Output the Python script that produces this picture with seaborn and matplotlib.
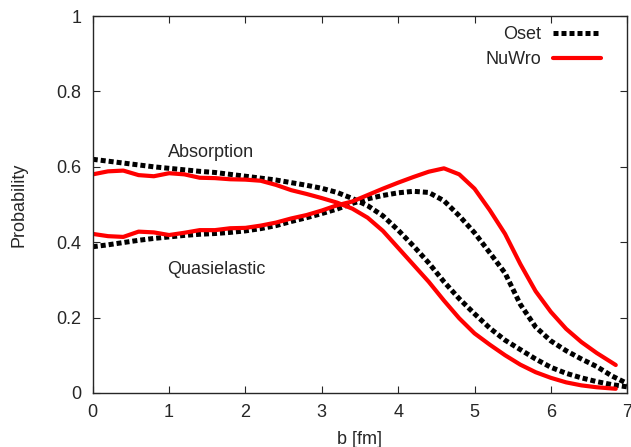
import pandas as pd
import seaborn as sns
import matplotlib.pyplot as plt

# impact parameter grid (fm)
b_oset = [0.0, 0.2, 0.4, 0.6, 0.8, 1.0, 1.2, 1.4, 1.6, 1.8, 2.0, 2.2, 2.4, 2.6, 2.8,
          3.0, 3.2, 3.4, 3.6, 3.8, 4.0, 4.2, 4.4, 4.6, 4.8, 5.0, 5.2, 5.4, 5.6, 5.8,
          6.0, 6.2, 6.4, 6.6, 6.8, 7.0]
b_nuwro = [0.0, 0.2, 0.4, 0.6, 0.8, 1.0, 1.2, 1.4, 1.6, 1.8, 2.0, 2.2, 2.4, 2.6, 2.8,
           3.0, 3.2, 3.4, 3.6, 3.8, 4.0, 4.2, 4.4, 4.6, 4.8, 5.0, 5.2, 5.4, 5.6, 5.8,
           6.0, 6.2, 6.4, 6.6, 6.85]

oset_abs = [0.620, 0.615, 0.610, 0.605, 0.600, 0.596, 0.592, 0.588, 0.585, 0.580,
            0.575, 0.570, 0.565, 0.558, 0.551, 0.543, 0.532, 0.516, 0.497, 0.470,
            0.432, 0.390, 0.345, 0.295, 0.250, 0.210, 0.172, 0.140, 0.115, 0.090,
            0.068, 0.052, 0.040, 0.030, 0.022, 0.016]
oset_qe = [0.388, 0.393, 0.399, 0.405, 0.410, 0.414, 0.418, 0.421, 0.423, 0.426,
           0.430, 0.436, 0.444, 0.455, 0.465, 0.476, 0.488, 0.503, 0.515, 0.524,
           0.531, 0.535, 0.532, 0.510, 0.470, 0.425, 0.372, 0.318, 0.235, 0.175,
           0.138, 0.112, 0.090, 0.070, 0.045, 0.025]

nuwro_abs = [0.580, 0.588, 0.590, 0.578, 0.575, 0.583, 0.580, 0.571, 0.570, 0.567,
             0.566, 0.563, 0.552, 0.538, 0.528, 0.517, 0.505, 0.489, 0.465, 0.430,
             0.385, 0.340, 0.295, 0.245, 0.198, 0.158, 0.128, 0.100, 0.075, 0.055,
             0.040, 0.028, 0.020, 0.015, 0.011]
nuwro_qe = [0.422, 0.416, 0.414, 0.428, 0.426, 0.419, 0.425, 0.432, 0.432, 0.437,
            0.438, 0.444, 0.452, 0.463, 0.472, 0.484, 0.498, 0.508, 0.525, 0.542,
            0.558, 0.573, 0.587, 0.596, 0.580, 0.542, 0.485, 0.422, 0.342, 0.270,
            0.215, 0.170, 0.135, 0.106, 0.074]

sns.set_style("ticks")
plt.rcParams['font.family'] = ['Liberation Sans', 'DejaVu Sans']
plt.rcParams['font.size'] = 13

fig = plt.figure(figsize=(6.31, 4.47), dpi=100)
ax = fig.add_axes([0.147, 0.121, 0.847, 0.843])

dot = (0, (1, 0.6))
sns.lineplot(x=b_oset, y=oset_abs, ax=ax, color='black', lw=3.6, label='Oset')
sns.lineplot(x=b_oset, y=oset_qe, ax=ax, color='black', lw=3.6)
sns.lineplot(x=b_nuwro, y=nuwro_abs, ax=ax, color='red', lw=3, label='NuWro')
sns.lineplot(x=b_nuwro, y=nuwro_qe, ax=ax, color='red', lw=3)
for ln in ax.lines[:2]:
    ln.set_linestyle(dot)

# curve annotations
ax.text(0.98, 0.638, 'Absorption', ha='left', va='center')
ax.text(0.98, 0.328, 'Quasielastic', ha='left', va='center')

ax.set_xlim(0, 7)
ax.set_ylim(0, 1)
ax.set_xticks(range(0, 8))
ax.set_yticks([0, 0.2, 0.4, 0.6, 0.8, 1])
ax.set_yticklabels(['0', '0.2', '0.4', '0.6', '0.8', '1'])
ax.tick_params(direction='in', top=True, right=True, length=5, width=0.8, pad=8)
for s in ax.spines.values():
    s.set_linewidth(1)
ax.set_xlabel('b [fm]', labelpad=7)
ax.set_ylabel('Probability', labelpad=21)

ax.legend(loc='upper right', bbox_to_anchor=(0.964, 0.992), frameon=False,
          markerfirst=False, handlelength=2.66, handletextpad=0.66,
          labelspacing=0.45, borderaxespad=0)

fig.savefig('out.png', dpi=100)
